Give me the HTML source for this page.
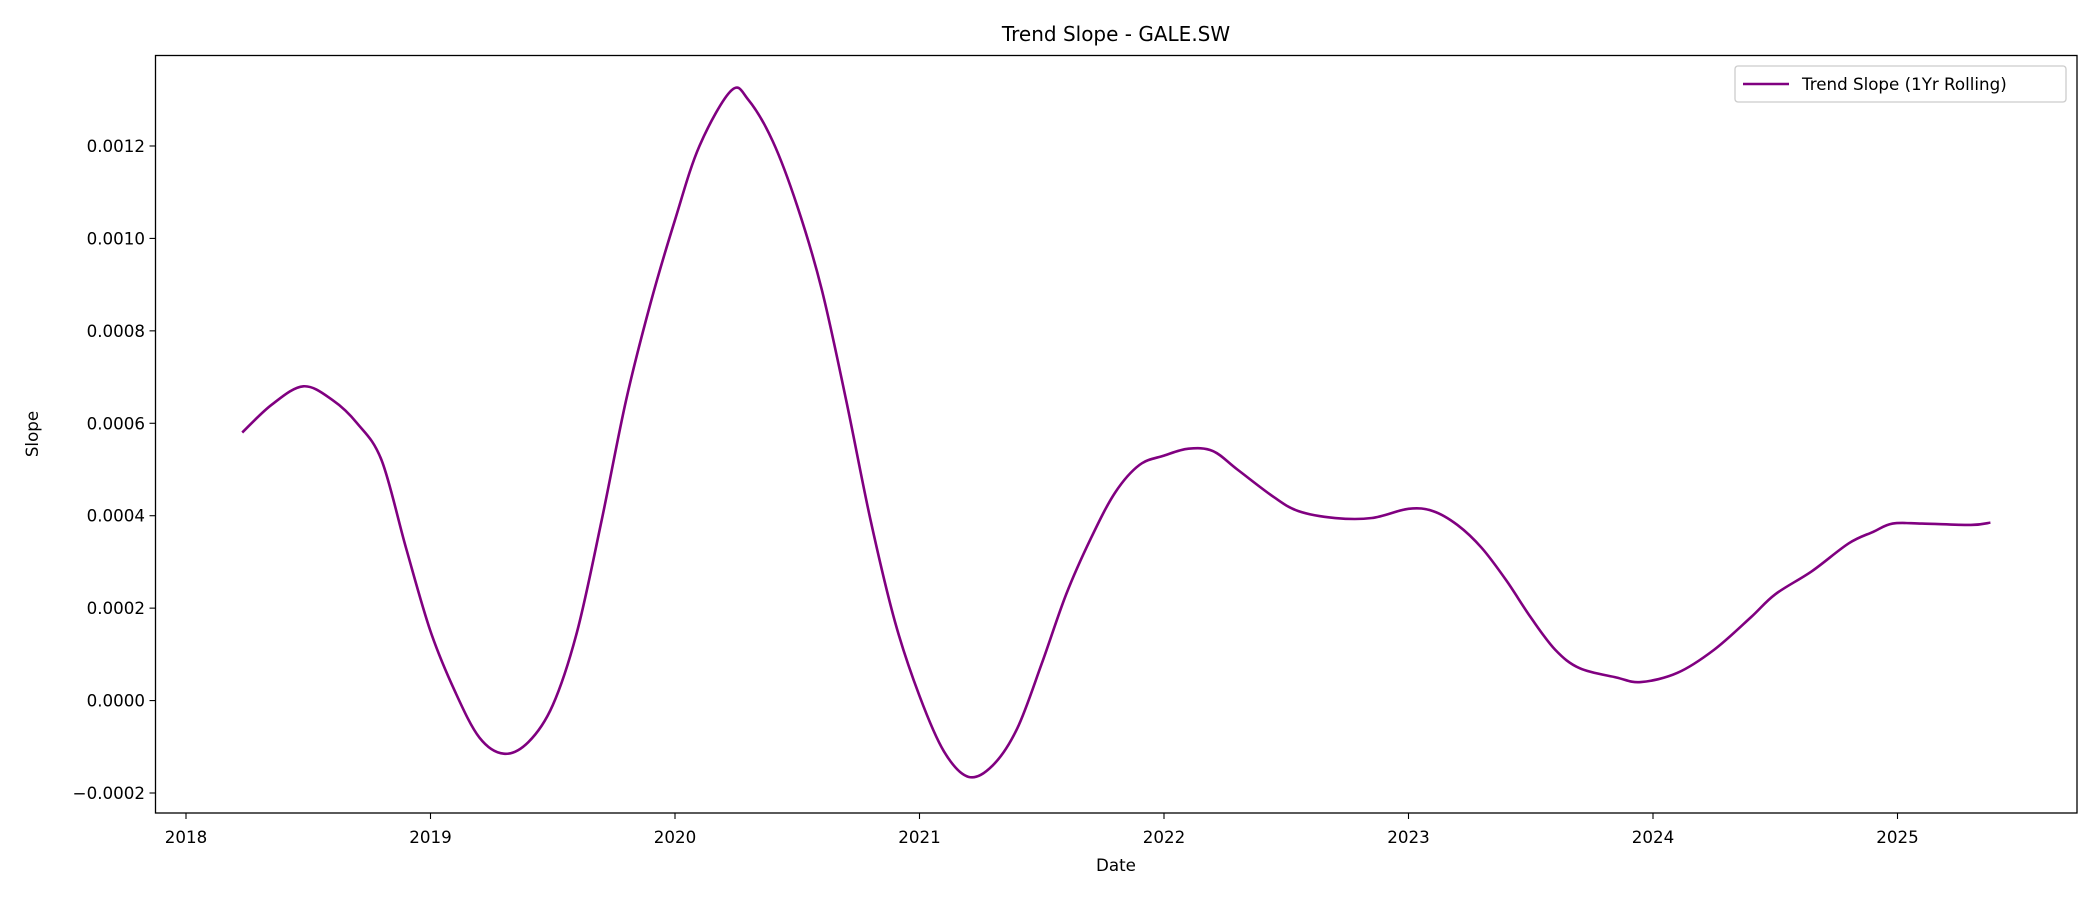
<!DOCTYPE html>
<html><head><meta charset="utf-8">
<style>
html,body{margin:0;padding:0;background:#fff;}
svg{display:block;font-family:"DejaVu Sans","Liberation Sans",sans-serif;}
</style></head>
<body>
<svg id="chart" width="2100" height="900" viewBox="0 0 2100 900">
<rect x="0" y="0" width="2100" height="900" fill="#fff"/>
<text x="1116" y="41" font-size="20" text-anchor="middle">Trend Slope - GALE.SW</text>
<g id="yticks"></g>
<g id="xticks"></g>
<path id="line" fill="none" stroke="#800080" stroke-width="2.6" stroke-linejoin="round"/>
<rect x="155.5" y="55.5" width="1921.5" height="757.5" fill="none" stroke="#000" stroke-width="1.3"/>
<text x="38" y="434" font-size="16.7" text-anchor="middle" transform="rotate(-90 38 434)">Slope</text>
<text x="1116" y="871" font-size="16.7" text-anchor="middle">Date</text>
<g>
<rect x="1735" y="66" width="331" height="36" rx="3" fill="#fff" stroke="#ccc" stroke-width="1.3"/>
<line x1="1743" y1="84" x2="1789" y2="84" stroke="#800080" stroke-width="2.6"/>
<text x="1802" y="90" font-size="16.7">Trend Slope (1Yr Rolling)</text>
</g>
</svg>
<script>
const yearTicks=[2018,2019,2020,2021,2022,2023,2024,2025];
const slopeTicks=[-0.0002,0,0.0002,0.0004,0.0006,0.0008,0.0010,0.0012];
const slopeTickLabels=["\u22120.0002","0.0000","0.0002","0.0004","0.0006","0.0008","0.0010","0.0012"];
const dates=[2018.23,2018.35,2018.48,2018.6,2018.7,2018.8,2018.9,2019.0,2019.1,2019.2,2019.3,2019.4,2019.5,2019.6,2019.7,2019.8,2019.9,2020.0,2020.1,2020.23,2020.3,2020.4,2020.5,2020.6,2020.7,2020.8,2020.9,2021.0,2021.1,2021.2,2021.3,2021.4,2021.5,2021.6,2021.7,2021.8,2021.9,2022.0,2022.1,2022.2,2022.3,2022.45,2022.55,2022.7,2022.85,2023.0,2023.1,2023.2,2023.3,2023.4,2023.5,2023.6,2023.7,2023.85,2023.95,2024.1,2024.25,2024.4,2024.5,2024.65,2024.8,2024.9,2024.98,2025.1,2025.3,2025.38];
const slopes=[0.00058,0.00064,0.00068,0.00065,0.00060,0.00052,0.00033,0.00015,0.00002,-0.00008,-0.000115,-0.00009,-0.00001,0.00015,0.00039,0.00065,0.00086,0.00104,0.0012,0.00132,0.00130,0.00121,0.00107,0.00089,0.00065,0.00039,0.00017,0.00001,-0.00011,-0.000165,-0.00014,-0.00006,0.00008,0.00023,0.00035,0.00045,0.00051,0.00053,0.000545,0.00054,0.00050,0.00044,0.00041,0.000395,0.000395,0.000415,0.00041,0.00038,0.00033,0.00026,0.00018,0.00011,0.00007,0.00005,0.00004,0.00006,0.00011,0.00018,0.00023,0.00028,0.00034,0.000365,0.000383,0.000383,0.00038,0.000385];
const NS="http://www.w3.org/2000/svg";
function xs(t){return 186+(t-2018)*244.5;}
function ys(v){return 793-(v+0.0002)/0.0002*92.43;}
const yg=document.getElementById('yticks');
slopeTicks.forEach((v,i)=>{
  const y=ys(v);
  const l=document.createElementNS(NS,'line');
  l.setAttribute('x1',149.5);l.setAttribute('x2',155.5);l.setAttribute('y1',y);l.setAttribute('y2',y);
  l.setAttribute('stroke','#000');l.setAttribute('stroke-width','1.1');
  
  
  yg.appendChild(l);
  const t=document.createElementNS(NS,'text');
  t.setAttribute('x',145);t.setAttribute('y',y+6);t.setAttribute('font-size','16.7');t.setAttribute('text-anchor','end');
  t.textContent=slopeTickLabels[i];
  
  
  yg.appendChild(t);
});
const xg=document.getElementById('xticks');
yearTicks.forEach(yr=>{
  const x=xs(yr);
  const l=document.createElementNS(NS,'line');
  l.setAttribute('x1',x);l.setAttribute('x2',x);l.setAttribute('y1',813);l.setAttribute('y2',819);
  l.setAttribute('stroke','#000');l.setAttribute('stroke-width','1.1');
  
  
  xg.appendChild(l);
  const t=document.createElementNS(NS,'text');
  t.setAttribute('x',x);t.setAttribute('y',843);t.setAttribute('font-size','16.7');t.setAttribute('text-anchor','middle');
  t.textContent=yr;
  
  
  xg.appendChild(t);
});
const P=dates.map((d,i)=>[xs(d),ys(slopes[i])]);
let d='M'+P[0][0]+','+P[0][1];
for(let i=0;i<P.length-1;i++){
  const p0=P[i-1]||P[i],p1=P[i],p2=P[i+1],p3=P[i+2]||P[i+1];
  const c1=[p1[0]+(p2[0]-p0[0])/6,p1[1]+(p2[1]-p0[1])/6];
  const c2=[p2[0]-(p3[0]-p1[0])/6,p2[1]-(p3[1]-p1[1])/6];
  d+=' C'+c1[0]+','+c1[1]+' '+c2[0]+','+c2[1]+' '+p2[0]+','+p2[1];
}
document.getElementById('line').setAttribute('d',d);
</script>
</body></html>
